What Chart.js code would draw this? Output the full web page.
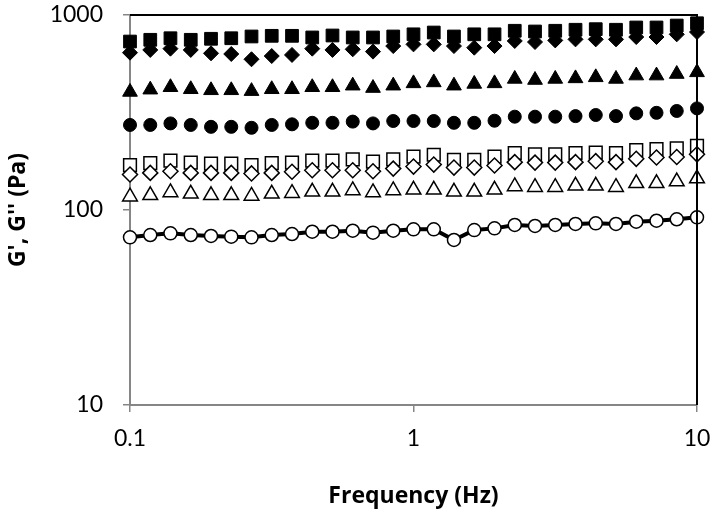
<!DOCTYPE html>
<html><head><meta charset="utf-8">
<script src="https://cdn.jsdelivr.net/npm/chart.js@4/dist/chart.umd.min.js"></script>
<style>html,body{margin:0;padding:0;background:#fff}</style>
</head><body>
<canvas id="c" width="715" height="518"></canvas>
<script>
// Frequency (Hz)
const frequency = [0.1, 0.1179, 0.1389, 0.1638, 0.1931, 0.2276, 0.2683, 0.3162, 0.3728, 0.4394, 0.5179, 0.6105, 0.7197, 0.8483,
  1, 1.179, 1.389, 1.638, 1.931, 2.276, 2.683, 3.162, 3.728, 4.394, 5.179, 6.105, 7.197, 8.483, 10];

// filled markers
const filledSquares   = [731, 746, 760, 746, 755, 760, 776, 782, 782, 767, 785, 767, 767, 776, 796, 813, 776, 796, 796, 830, 823, 830, 840, 846, 840, 863, 863, 883, 907];
const filledDiamonds  = [641, 662, 672, 662, 636, 631, 593, 616, 624, 672, 662, 667, 649, 693, 707, 707, 693, 680, 693, 736, 727, 741, 750, 750, 750, 771, 771, 796, 818];
const filledTriangles = [403, 414, 426, 416, 411, 411, 407, 416, 416, 426, 426, 434, 422, 434, 446, 451, 434, 443, 446, 470, 464, 470, 473, 479, 470, 489, 489, 498, 508];
const filledCircles   = [273, 273, 278, 273, 267, 267, 264, 273, 275, 280, 280, 284, 278, 286, 286, 286, 280, 280, 287, 301, 301, 301, 303, 307, 303, 313, 315, 322, 332];

// open markers
const openSquares   = [170, 174, 179, 175, 173, 173, 170, 174, 175, 179, 179, 182, 177, 182, 188, 192, 181, 181, 188, 196, 193, 193, 196, 197, 196, 203, 205, 207, 213];
const openDiamonds  = [152, 155, 158, 155, 155, 155, 154, 155, 157, 160, 160, 160, 158, 163, 167, 171, 165, 165, 169, 176, 175, 175, 176, 178, 176, 183, 186, 187, 193];
const openTriangles = [117, 119, 123, 121, 119, 119, 118, 121, 122, 124, 124, 126, 123, 126, 127, 127, 124, 124, 127, 132, 131, 131, 133, 133, 131, 137, 137, 140, 145];
const openCircles   = [72.4, 74.4, 75.9, 74.4, 73.6, 73, 72.4, 74.4, 75.3, 77.4, 77.4, 78.3, 76.5, 78.3, 79.6, 79.6, 70.2, 78.9, 80.5, 83.8, 82.8, 83.8, 84.8, 85.4, 84.8, 87.1, 88.1, 89.6, 91.7];

// axis ticks
const xTickValues = [0.1, 1, 10];
const xTickLabels = ['0.1', '1', '10'];
const yTickValues = [10, 100, 1000];
const yTickLabels = ['10', '100', '1000'];

const xTitle = 'Frequency (Hz)';
const yTitle = "G', G'' (Pa)";

function pts(vals) { return frequency.map((f, i) => ({x: f, y: vals[i]})); }

const openStyle = {pointBackgroundColor: '#fff', pointBorderColor: '#000', pointBorderWidth: 1.5, showLine: false, clip: false};
const filledStyle = {pointBackgroundColor: '#000', pointBorderColor: '#000', pointBorderWidth: 1, showLine: false, clip: false};

const AXIS_GREY = '#868686';
const FONT = 'Lato, "Open Sans", sans-serif';
const TITLE_FONT = '"Open Sans", Lato, sans-serif';

const frame = {
  id: 'frame',
  beforeDraw(chart) {
    const ctx = chart.ctx;
    ctx.save(); ctx.fillStyle = '#fff'; ctx.fillRect(0, 0, chart.width, chart.height); ctx.restore();
  },
  afterDraw(chart) {
    const a = chart.chartArea, ctx = chart.ctx;
    ctx.save();
    ctx.strokeStyle = '#000'; ctx.lineWidth = 2;
    ctx.beginPath();
    ctx.moveTo(a.left, a.top); ctx.lineTo(a.right, a.top); ctx.lineTo(a.right, a.bottom);
    ctx.stroke();
    ctx.restore();
  }
};

function noPad(s) { s.paddingTop = 0; s.paddingBottom = 0; s.paddingLeft = 0; s.paddingRight = 0; }

new Chart(document.getElementById('c'), {
  type: 'scatter',
  data: {
    datasets: [
      Object.assign({label: 'open circles', data: pts(openCircles), pointStyle: 'circle', pointRadius: 6.5,
        borderColor: '#000', borderWidth: 4}, openStyle, {showLine: true}),
      Object.assign({label: 'open diamonds', data: pts(openDiamonds), pointStyle: 'rectRot', pointRadius: 7.5}, openStyle),
      Object.assign({label: 'open squares', data: pts(openSquares), pointStyle: 'rect', pointRadius: 9}, openStyle),
      Object.assign({label: 'open triangles', data: pts(openTriangles), pointStyle: 'triangle', pointRadius: 8.5}, openStyle),
      Object.assign({label: 'filled diamonds', data: pts(filledDiamonds), pointStyle: 'rectRot', pointRadius: 7.5}, filledStyle),
      Object.assign({label: 'filled squares', data: pts(filledSquares), pointStyle: 'rect', pointRadius: 9}, filledStyle),
      Object.assign({label: 'filled triangles', data: pts(filledTriangles), pointStyle: 'triangle', pointRadius: 8.5}, filledStyle),
      Object.assign({label: 'filled circles', data: pts(filledCircles), pointStyle: 'circle', pointRadius: 6.5}, filledStyle)
    ]
  },
  options: {
    responsive: false,
    animation: false,
    devicePixelRatio: 1,
    layout: {padding: {top: 15, right: 18, left: 0, bottom: 0}},
    plugins: {legend: {display: false}, tooltip: {enabled: false}},
    scales: {
      x: {
        type: 'logarithmic', min: 0.1, max: 10, z: 1,
        afterFit(s) { s.height = 113; noPad(s); },
        afterBuildTicks(s) { s.ticks = xTickValues.map(v => ({value: v})); },
        border: {display: true, color: AXIS_GREY, width: 2},
        grid: {display: true, drawOnChartArea: false, drawTicks: true, tickLength: 7, color: AXIS_GREY, lineWidth: 1.5},
        ticks: {autoSkip: false, maxRotation: 0, padding: 13, color: '#000', font: {family: FONT, size: 23},
          callback: (v) => { const i = xTickValues.indexOf(v); return i >= 0 ? xTickLabels[i] : ''; }},
        title: {display: true, text: xTitle, color: '#000', font: {family: TITLE_FONT, size: 23, weight: 'bold'}, padding: {top: 0, bottom: 8}}
      },
      y: {
        type: 'logarithmic', min: 10, max: 1000, z: 1,
        afterFit(s) { s.width = 130; noPad(s); },
        afterBuildTicks(s) { s.ticks = yTickValues.map(v => ({value: v})); },
        border: {display: true, color: AXIS_GREY, width: 2},
        grid: {display: true, drawOnChartArea: false, drawTicks: true, tickLength: 7, color: AXIS_GREY, lineWidth: 1.5},
        ticks: {autoSkip: false, padding: 20, color: '#000', font: {family: FONT, size: 23},
          callback: (v) => { const i = yTickValues.indexOf(v); return i >= 0 ? yTickLabels[i] : ''; }},
        title: {display: true, text: yTitle, color: '#000', font: {family: TITLE_FONT, size: 23, weight: 'bold'}, padding: {top: 5, bottom: 0}}
      }
    }
  },
  plugins: [frame]
});
</script>
</body></html>
